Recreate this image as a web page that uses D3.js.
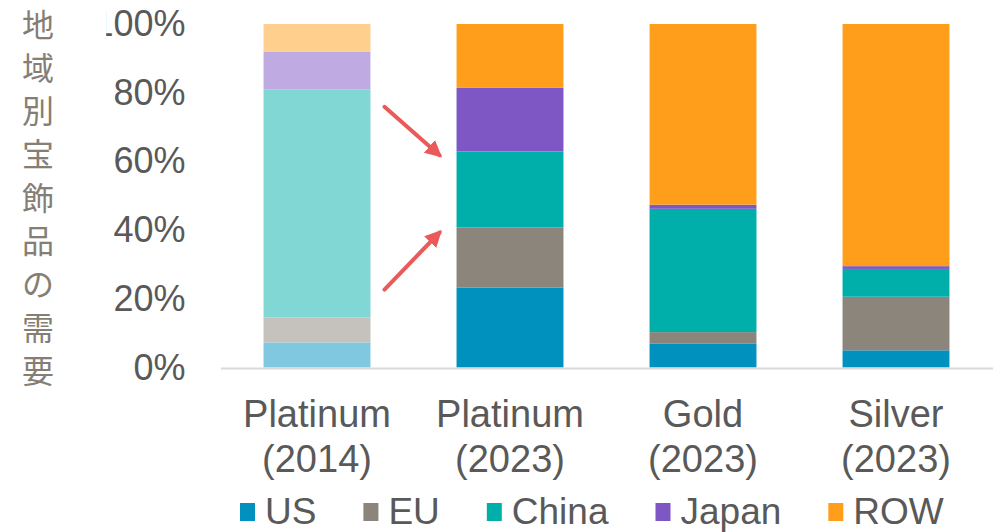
<!DOCTYPE html>
<html>
<head>
<meta charset="utf-8">
<script src="https://cdn.jsdelivr.net/npm/d3@7"></script>
<style>
  body { margin: 0; background: #ffffff; }
  svg { display: block; }
  text { font-family: "Liberation Sans", Arial, sans-serif; }
</style>
</head>
<body>
<div id="chart"></div>
<script>
// Chart values (share of jewellery demand by region)
var categories = ["Platinum (2014)", "Platinum (2023)", "Gold (2023)", "Silver (2023)"];
var regions = ["US", "EU", "China", "Japan", "ROW"];
var usShare    = [0.073, 0.233, 0.069, 0.050];
var euShare    = [0.073, 0.175, 0.034, 0.156];
var chinaShare = [0.664, 0.221, 0.359, 0.081];
var japanShare = [0.110, 0.185, 0.012, 0.008];
var rowShare   = [0.080, 0.186, 0.526, 0.705];
var yTicks = [0, 0.2, 0.4, 0.6, 0.8, 1.0];
var yTitle = "地域別宝飾品の需要";

// Colours: 2023 bars full, 2014 bar faded
var colors = ["#0091bf", "#8c857b", "#00afaa", "#7e57c5", "#ff9e1b"];
var fadedColors = ["#7fc8df", "#c5c2bd", "#80d7d4", "#bfabe2", "#ffcf8d"];

// SVG area
var svgWidth = 1002;
var svgHeight = 532;

var svg = d3.select("#chart")
  .append("svg")
  .attr("width", svgWidth)
  .attr("height", svgHeight);

// Plot area edges
var plotLeft = 220.5;
var plotRight = 992.5;
var plotTop = 24;
var plotBottom = 367.5;

// Build rows for stacking
var rows = categories.map(function(c, i) {
  return {
    category: c,
    US: usShare[i],
    EU: euShare[i],
    China: chinaShare[i],
    Japan: japanShare[i],
    ROW: rowShare[i]
  };
});

var stacked = d3.stack().keys(regions)(rows);

// Scales
var xScale = d3.scaleBand()
  .domain(categories)
  .range([plotLeft, plotRight])
  .paddingInner(0.446)
  .paddingOuter(0.223);

var yScale = d3.scaleLinear()
  .domain([0, 1])
  .range([plotBottom, plotTop]);

// Y axis (top label is clipped on the left, like the original)
var defs = svg.append("defs");
var clipRect = defs.append("clipPath")
  .attr("id", "yclip")
  .append("rect")
  .attr("x", 0)
  .attr("y", 0)
  .attr("width", 300)
  .attr("height", 400);

var yAxis = svg.append("g")
  .attr("clip-path", "url(#yclip)")
  .append("g")
  .attr("transform", `translate(${plotLeft}, 0)`)
  .call(d3.axisLeft(yScale)
    .tickValues(yTicks)
    .tickFormat(d3.format(".0%"))
    .tickSize(0)
    .tickPadding(35));

yAxis.select(".domain").remove();
yAxis.selectAll("text")
  .style("font-family", "'Liberation Sans', Arial, sans-serif")
  .style("font-size", "36px")
  .attr("fill", "#595959");

// clip just left of the "00%" so only a sliver of the "1" stays
var topLabel = yAxis.selectAll(".tick text").filter(d => d === 1).node();
var secondCharX = topLabel.getStartPositionOfChar(1).x;
clipRect.attr("x", plotLeft + secondCharX - 7.2);

// Y title, written vertically one character per line
svg.append("g")
  .selectAll("text")
  .data(yTitle.split(""))
  .enter()
  .append("text")
  .attr("x", 38)
  .attr("y", (d, i) => 25 + i * 43.3)
  .attr("dy", "0.36em")
  .attr("text-anchor", "middle")
  .style("font-family", "'Noto Sans CJK JP', sans-serif")
  .style("font-size", "32px")
  .attr("fill", "#857e74")
  .text(d => d);

// Stacked bars
var layers = svg.append("g")
  .selectAll("g")
  .data(stacked)
  .enter()
  .append("g");

layers.selectAll("rect")
  .data(function(layer, k) {
    return layer.map(function(seg, i) {
      return {seg: seg, color: i === 0 ? fadedColors[k] : colors[k]};
    });
  })
  .enter()
  .append("rect")
  .attr("x", d => xScale(d.seg.data.category))
  .attr("y", d => yScale(d.seg[1]))
  .attr("width", xScale.bandwidth())
  .attr("height", d => yScale(d.seg[0]) - yScale(d.seg[1]))
  .attr("fill", d => d.color);

// X axis line and two-line category labels
var xAxis = svg.append("g")
  .attr("transform", `translate(0, ${plotBottom + 0.5})`)
  .call(d3.axisBottom(xScale).tickSize(0).tickSizeOuter(0).tickFormat(""));

xAxis.select(".domain")
  .attr("stroke", "#d9d9d9")
  .attr("stroke-width", 2);

xAxis.selectAll(".tick text").remove();

xAxis.selectAll(".tick")
  .append("text")
  .attr("text-anchor", "middle")
  .attr("fill", "#595959")
  .style("font-family", "'Liberation Sans', Arial, sans-serif")
  .style("font-size", "38px")
  .selectAll("tspan")
  .data(d => {
    var parts = d.split(" ");
    return [parts[0], parts[1]];
  })
  .enter()
  .append("tspan")
  .attr("x", 0)
  .attr("y", (d, i) => 59 + i * 45)
  .text(d => d);

// Red arrows from 2014 platinum to 2023 platinum
defs.append("marker")
  .attr("id", "arrowhead")
  .attr("viewBox", "0 0 10 10")
  .attr("refX", 8)
  .attr("refY", 5)
  .attr("markerWidth", 4.2)
  .attr("markerHeight", 4.2)
  .attr("orient", "auto")
  .append("path")
  .attr("d", "M0,0 L10,5 L0,10 Z")
  .attr("fill", "#eb5a5a");

var arrows = [
  {from: 0.759, to: 0.618},
  {from: 0.227, to: 0.393}
];

svg.append("g")
  .selectAll("line")
  .data(arrows)
  .enter()
  .append("line")
  .attr("x1", xScale(categories[0]) + xScale.bandwidth() + 14)
  .attr("y1", d => yScale(d.from))
  .attr("x2", xScale(categories[1]) - 17)
  .attr("y2", d => yScale(d.to))
  .attr("stroke", "#eb5a5a")
  .attr("stroke-width", 4)
  .attr("stroke-linecap", "round")
  .attr("marker-end", "url(#arrowhead)");

// Legend
var legend = svg.append("g")
  .attr("transform", "translate(240, 0)");

var legendX = 0;
regions.forEach(function(r, i) {
  var item = legend.append("g")
    .attr("transform", `translate(${legendX}, 0)`);

  item.append("rect")
    .attr("x", 0)
    .attr("y", 503)
    .attr("width", 15)
    .attr("height", 18)
    .attr("fill", colors[i]);

  var label = item.append("text")
    .attr("x", 25)
    .attr("y", 524)
    .attr("fill", "#595959")
    .style("font-size", "37px")
    .text(r);

  legendX += 25 + label.node().getComputedTextLength() + 47;
});
</script>
</body>
</html>
